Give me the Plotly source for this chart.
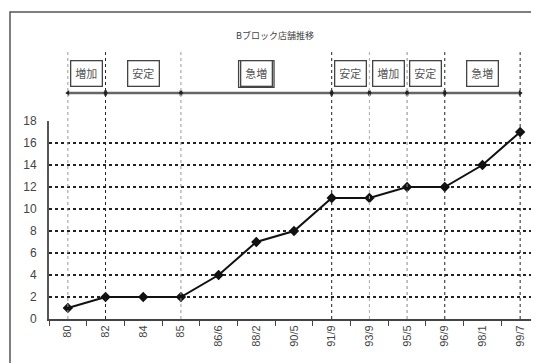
import plotly.graph_objects as go

periods = ['80', '82', '84', '85', '86/6', '88/2', '90/5', '91/9', '93/9', '95/5', '96/9', '98/1', '99/7']
stores = [1, 2, 2, 2, 4, 7, 8, 11, 11, 12, 12, 14, 17]

# phase bands: (start period, end period, label)
phase_starts = ['80', '82', '85', '91/9', '93/9', '95/5', '96/9']
phase_ends = ['82', '85', '91/9', '93/9', '95/5', '96/9', '99/7']
phase_labels = ['増加', '安定', '急増', '安定', '増加', '安定', '急増']
boundaries = ['80', '82', '85', '91/9', '93/9', '95/5', '96/9', '99/7']
boundary_colors = ['#999', '#222', '#999', '#222', '#aaa', '#888', '#222', '#222']

TITLE = 'Bブロック店舗推移'
JP = 'Noto Sans CJK JP'
NUM = 'Liberation Sans Narrow, Liberation Sans, Arial'

# vertical positions in paper units (paper spans from the page top to the x axis)
PLOT_TOP = 0.6513
ARROW_Y = 0.7434
BOX_Y = 0.806
VLINE_TOP = 0.878
TITLE_Y = 0.934
FRAME_TOP = 1.01

idx = {p: i for i, p in enumerate(periods)}

fig = go.Figure()

fig.add_trace(go.Scatter(
    x=list(range(len(periods))), y=stores, mode='lines+markers',
    line=dict(color='#111', width=2),
    marker=dict(symbol='diamond', size=8, color='#111'),
    showlegend=False, hoverinfo='skip',
))

# arrow heads on the phase line (overlay axis in paper-like units)
fig.add_trace(go.Scatter(
    x=[idx[s] for s in phase_starts], y=[ARROW_Y] * len(phase_starts), yaxis='y2',
    mode='markers', marker=dict(symbol='triangle-left', size=5, color='#222'),
    showlegend=False, hoverinfo='skip',
))
fig.add_trace(go.Scatter(
    x=[idx[e] for e in phase_ends], y=[ARROW_Y] * len(phase_ends), yaxis='y2',
    mode='markers', marker=dict(symbol='triangle-right', size=5, color='#222'),
    showlegend=False, hoverinfo='skip',
))

shapes = []
for b, c in zip(boundaries, boundary_colors):
    shapes.append(dict(type='line', xref='x', yref='paper', x0=idx[b], x1=idx[b], y0=0, y1=VLINE_TOP,
                       line=dict(color=c, width=1, dash='dot'), layer='above'))
shapes.append(dict(type='line', xref='x', yref='paper', x0=idx[boundaries[0]], x1=idx[boundaries[-1]],
                   y0=ARROW_Y, y1=ARROW_Y, line=dict(color='#666', width=2.5), layer='below'))
# outer frame (clipped by the page on the right and bottom)
shapes.append(dict(type='rect', xref='paper', yref='paper', x0=-0.0796, x1=1.2, y0=-0.4, y1=FRAME_TOP,
                   line=dict(color='#555', width=1.5)))

annotations = []
for s, e, lab in zip(phase_starts, phase_ends, phase_labels):
    xm = (idx[s] + idx[e]) / 2
    annotations.append(dict(
        x=xm, y=BOX_Y, xref='x', yref='paper', yanchor='middle', text=lab, showarrow=False,
        font=dict(family=JP, size=11, color='#555'),
        bordercolor='#444', borderwidth=1.3, borderpad=4, bgcolor='white',
    ))
    if lab == '急増' and s == '85':
        # the highlighted phase gets a double frame
        shapes.append(dict(type='rect', xref='x', yref='paper',
                           x0=xm - 0.47, x1=xm + 0.47, y0=BOX_Y - 0.044, y1=BOX_Y + 0.044,
                           line=dict(color='#444', width=1.3)))

annotations.append(dict(
    x=0.462, y=TITLE_Y, xref='paper', yref='paper', yanchor='middle', text=TITLE, showarrow=False,
    font=dict(family=JP, size=9, color='#444'),
))

fig.update_layout(
    width=539, height=363,
    margin=dict(l=41, r=8, t=0, b=52),
    paper_bgcolor='white', plot_bgcolor='rgba(0,0,0,0)',
    shapes=shapes, annotations=annotations,
    xaxis=dict(
        range=[-0.5, len(periods) - 0.5], tickangle=-90,
        tickvals=list(range(len(periods))), ticktext=periods,
        ticks='', showline=True, linecolor='#444', linewidth=2,
        showgrid=False, zeroline=False,
        minor=dict(tickvals=[i - 0.5 for i in range(len(periods) + 1)],
                   ticks='outside', ticklen=5, tickcolor='#444', showgrid=False),
        tickfont=dict(family=NUM, size=11, color='#444'),
    ),
    yaxis=dict(
        domain=[0, PLOT_TOP], range=[0, 18], dtick=2,
        showline=True, linecolor='#555', linewidth=2,
        showgrid=True, gridcolor='#222', griddash='dot', gridwidth=2,
        zeroline=False, ticks='', ticklabelstandoff=8,
        tickfont=dict(family=NUM, size=12, color='#444'),
    ),
    yaxis2=dict(
        domain=[0, 1], range=[0, 1], anchor='x', visible=False, showgrid=False,
    ),
)

fig.write_html('out.html')
